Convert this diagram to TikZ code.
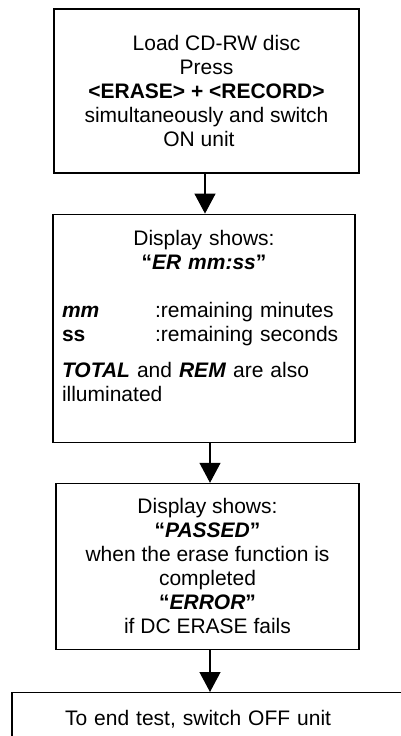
\documentclass[tikz,border=0pt]{standalone}
\usepackage{fontspec}
\setmainfont{Liberation Sans}
\usetikzlibrary{positioning,arrows.meta}

\tikzset{
  block/.style={draw,rectangle,line width=1.2pt,inner sep=0pt,align=center,
                font=\fontsize{21}{24}\selectfont},
}

\begin{document}
\begin{tikzpicture}[->,>={Triangle[width=21pt,length=20pt]},x=1pt,y=1pt,
                    line width=1.2pt,node distance=40pt]

  \clip (0,0) rectangle (401,-736);

  \node[block,minimum width=305pt,minimum height=164pt] (A) at (206.5,-91)
       {\hspace*{20pt}Load CD-RW disc\\
        Press\\
        \textbf{<ERASE> + <RECORD>}\\
        simultaneously and switch\\
        ON unit\hspace*{15pt}};
  \node[block,minimum width=302pt,minimum height=228pt,text width=284pt]
       (B) [below=40pt of A,xshift=-2.5pt]
       {Display shows:\\
        \textbf{“\textit{ER mm:ss}”}\\[24pt]
        \makebox[\linewidth][l]{\makebox[93pt][l]{\bfseries\itshape mm}:remaining minutes}\\
        \makebox[\linewidth][l]{\makebox[93pt][l]{\bfseries ss}:remaining seconds}\\[12pt]
        \makebox[\linewidth][l]{\textbf{\textit{TOTAL}} and \textbf{\textit{REM}} are also}\\
        \makebox[\linewidth][l]{illuminated}\\
        \mbox{}};
  \node[block,minimum width=303pt,minimum height=166pt]
       (C) [below=40pt of B,xshift=3.5pt]
       {Display shows:\\
        \textbf{“\textit{PASSED}”}\\
        when the erase function is\\
        completed\\
        \textbf{“\textit{ERROR}”}\\
        if DC ERASE fails};
  \node[block,text width=314pt,align=left,inner xsep=53pt,inner ysep=17.7pt]
       (D) [below=42pt of C,xshift=14.5pt]
       {To end test, switch OFF unit};

  \path ([xshift=-1.5pt]A.south) edge ([xshift=-1.5pt]A.south |- B.north);
  \path ([xshift=6pt]B.south) edge ([xshift=6pt]B.south |- C.north);
  \path ([xshift=2.5pt]C.south) edge ([xshift=2.5pt]C.south |- D.north);

\end{tikzpicture}
\end{document}
